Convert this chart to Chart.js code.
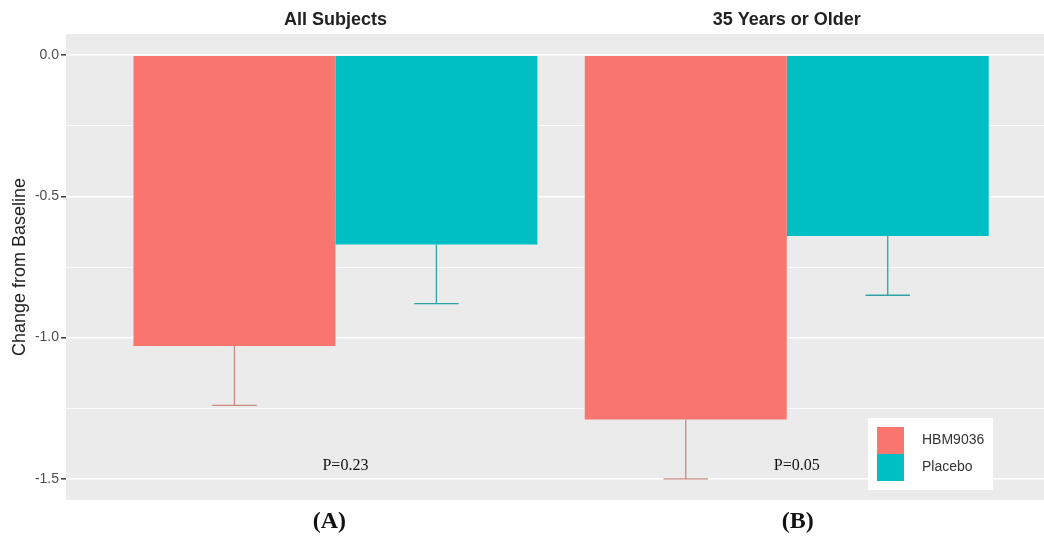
<!DOCTYPE html>
<html><head><meta charset="utf-8">
<script src="https://cdn.jsdelivr.net/npm/chart.js@4.4.1/dist/chart.umd.min.js"></script>
<style>html,body{margin:0;padding:0;background:#fff;} #wrap{width:1044px;height:537px;position:relative;}</style>
</head><body><div id="wrap"><canvas id="c" width="1044" height="537"></canvas></div>
<script>
// ---- data ----
const panels = ['All Subjects', '35 Years or Older'];
const panelTags = ['(A)', '(B)'];
const pValues = ['P=0.23', 'P=0.05'];
const seriesNames = ['HBM9036', 'Placebo'];
const hbmMean = [-1.03, -1.29];
const hbmLower = [-1.24, -1.50];
const placeboMean = [-0.67, -0.64];
const placeboLower = [-0.88, -0.85];
const yMajorTicks = [0, -0.5, -1.0, -1.5];
const yMinorTicks = [-0.25, -0.75, -1.25];

const colors = ['#F8766D', '#00BFC4'];
const sans = '"Liberation Sans", Arial, sans-serif';
const serif = '"Liberation Serif", "Times New Roman", serif';

const toPoints = arr => arr.map((v, i) => ({ x: i + 1, y: v }));

const bgPlugin = {
  id: 'panelBg',
  beforeDraw(chart) {
    const { ctx, chartArea: a } = chart;
    ctx.save();
    ctx.fillStyle = '#EBEBEB';
    ctx.fillRect(a.left, a.top, a.right - a.left, a.bottom - a.top);
    ctx.restore();
  }
};

const errPlugin = {
  id: 'errBars',
  afterDatasetsDraw(chart) {
    const { ctx } = chart;
    const ys = chart.scales.y;
    chart.data.datasets.forEach((ds, i) => {
      const meta = chart.getDatasetMeta(i);
      meta.data.forEach((bar, j) => {
        const top = ys.getPixelForValue(ds.data[j].y);
        const low = ys.getPixelForValue(ds.errLower[j]);
        const half = bar.width * 0.11;
        ctx.save();
        ctx.strokeStyle = ds.errColor;
        ctx.lineWidth = 1.3;
        ctx.beginPath();
        ctx.moveTo(bar.x, top);
        ctx.lineTo(bar.x, low);
        ctx.moveTo(bar.x - half, low);
        ctx.lineTo(bar.x + half, low);
        ctx.stroke();
        ctx.restore();
      });
    });
  }
};

const textPlugin = {
  id: 'panelText',
  afterDatasetsDraw(chart) {
    const { ctx } = chart;
    const xs = chart.scales.x, ys = chart.scales.y;
    ctx.save();
    ctx.fillStyle = '#111';
    ctx.textAlign = 'center';
    ctx.textBaseline = 'middle';
    ctx.font = '16px ' + serif;
    pValues.forEach((p, i) => {
      ctx.fillText(p, xs.getPixelForValue(i + 1) + 10, ys.getPixelForValue(-1.455));
    });
    ctx.font = 'bold 24px ' + serif;
    const tagShift = [-6, 11];
    panelTags.forEach((t, i) => {
      ctx.fillText(t, xs.getPixelForValue(i + 1) + tagShift[i], chart.chartArea.bottom + 22);
    });
    ctx.restore();
  }
};

const legendPlugin = {
  id: 'insideLegend',
  afterDraw(chart) {
    const { ctx, chartArea: a } = chart;
    const boxW = 125, boxH = 72, key = 27;
    const x0 = a.right - 51 - boxW, y0 = a.bottom - 10 - boxH;
    ctx.save();
    ctx.fillStyle = '#FFFFFF';
    ctx.fillRect(x0, y0, boxW, boxH);
    chart.data.datasets.forEach((ds, i) => {
      const ky = y0 + 9 + i * key;
      ctx.fillStyle = ds.backgroundColor;
      ctx.fillRect(x0 + 9, ky, key, key);
      ctx.fillStyle = '#333';
      ctx.font = '14px ' + sans;
      ctx.textAlign = 'left';
      ctx.textBaseline = 'middle';
      ctx.fillText(ds.label, x0 + 54, ky + key / 2);
    });
    ctx.restore();
  }
};

const isMajor = v => yMajorTicks.some(t => Math.abs(t - v) < 1e-9);

new Chart(document.getElementById('c'), {
  type: 'bar',
  data: {
    datasets: [
      { label: seriesNames[0], data: toPoints(hbmMean), errLower: hbmLower,
        backgroundColor: colors[0], errColor: '#C98A85' },
      { label: seriesNames[1], data: toPoints(placeboMean), errLower: placeboLower,
        backgroundColor: colors[1], errColor: '#2FA3A6' }
    ]
  },
  plugins: [bgPlugin, errPlugin, textPlugin, legendPlugin],
  options: {
    responsive: false,
    devicePixelRatio: 1,
    animation: false,
    layout: { padding: { left: 0, right: 0, top: 0, bottom: 37 } },
    categoryPercentage: 0.895,
    barPercentage: 1.0,
    plugins: { legend: { display: false }, tooltip: { enabled: false } },
    scales: {
      x: {
        type: 'linear',
        position: 'top',
        min: 0.403, max: 2.57,
        offset: false,
        grid: { display: false, drawTicks: false, offset: false },
        border: { display: false },
        afterBuildTicks: s => { s.ticks = panels.map((p, i) => ({ value: i + 1 })); },
        afterFit: s => { s.height = 34; },
        ticks: {
          autoSkip: false, maxRotation: 0, padding: 3,
          color: '#222',
          font: { family: sans, size: 18, weight: 'bold' },
          callback: v => panels[Math.round(v) - 1] || ''
        }
      },
      y: {
        type: 'linear',
        min: -1.575, max: 0.075,
        afterBuildTicks: s => {
          s.ticks = yMajorTicks.concat(yMinorTicks).sort((a, b) => a - b).map(v => ({ value: v }));
        },
        afterFit: s => { s.width = 66; },
        border: { display: false },
        grid: {
          color: '#FFFFFF',
          lineWidth: c => isMajor(c.tick.value) ? 1.6 : 0.8,
          tickColor: c => isMajor(c.tick.value) ? '#444' : 'rgba(0,0,0,0)',
          tickLength: 5,
          drawTicks: true
        },
        ticks: {
          padding: 2,
          color: '#4D4D4D',
          font: { family: sans, size: 14 },
          callback: v => isMajor(v) ? Number(v).toFixed(1) : ''
        },
        title: {
          display: true,
          text: 'Change from Baseline',
          color: '#222',
          font: { family: sans, size: 18 },
          padding: { top: 9, bottom: 0 }
        }
      }
    }
  }
});
</script>
</body></html>
